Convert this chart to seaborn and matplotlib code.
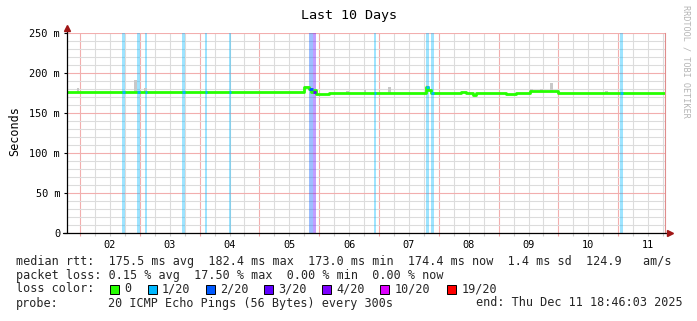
import numpy as np
import pandas as pd
import matplotlib
matplotlib.use("Agg")
import matplotlib.pyplot as plt
import seaborn as sns
from matplotlib.patches import Rectangle
from matplotlib.ticker import FixedLocator, FixedFormatter, NullFormatter

# ---------------- data ----------------
start_time = "2025-12-01 18:46:03"
n_hours = 240
# median rtt (ms) as a step function: segment start hour -> value
median_seg_start = [0, 95, 97, 98, 99, 100, 105, 144, 145, 146, 158, 160, 163, 164,
                    176, 180, 186, 189, 192, 197, 236]
median_seg_value = [176.4, 182.4, 179.6, 176.5, 178.7, 173.5, 174.8, 183.0, 178.7, 174.8,
                    176.6, 174.8, 173.0, 174.8, 173.3, 174.8, 178.0, 177.3, 177.8, 174.6, 174.4]
# periods with packet loss: start hour, duration (h), loss level (index into legend colours)
loss_start = [22.0, 28.0, 31.2, 46.0, 55.2, 65.2, 97.2, 98.8, 123.2, 144.0, 146.0, 222.0]
loss_duration = [1.3, 1.3, 0.8, 1.3, 0.8, 0.8, 1.6, 1.0, 0.8, 1.3, 1.3, 1.3]
loss_level = [1, 1, 1, 1, 1, 1, 2, 3, 1, 1, 1, 1]
# smoke (rtt spread) spikes
smoke_hours = [4, 27, 31, 95, 96, 99, 112, 119, 129, 144, 186, 190, 194, 216]
smoke_top = [181, 191, 181, 184, 184, 180, 178, 178.5, 183, 185.5, 180, 180, 188, 177.5]

loss_legend_labels = ["0", "1/20", "2/20", "3/20", "4/20", "10/20", "19/20"]
loss_legend_colors = ["#26ff00", "#00b8ff", "#0059ff", "#5e00ff", "#7e00ff", "#dd00ff", "#ff0000"]
y_ticks = [0, 50, 100, 150, 200, 250]
y_tick_labels = ["0", "50 m", "100 m", "150 m", "200 m", "250 m"]

title = "Last 10 Days"
y_label = "Seconds"
line_median = "median rtt:  175.5 ms avg  182.4 ms max  173.0 ms min  174.4 ms now  1.4 ms sd  124.9   am/s"
line_loss = "packet loss: 0.15 % avg  17.50 % max  0.00 % min  0.00 % now"
probe_label = "probe:"
probe_text = "20 ICMP Echo Pings (56 Bytes) every 300s"
end_text = "end: Thu Dec 11 18:46:03 2025"
watermark = "RRDTOOL / TOBI OETIKER"

# ---------------- style ----------------
sns.set_theme(style="white")
plt.rcParams['font.family'] = ['DejaVu Sans Mono', 'DejaVu Sans']

W, H = 697, 321
fig = plt.figure(figsize=(W / 100, H / 100), dpi=100)
fig.patch.set_facecolor("white")

def fx(px):
    return px / W

def fy(py):
    return 1 - py / H

ax = fig.add_axes([fx(67), fy(233), 598 / W, 200 / H])
ax.set_facecolor("white")

# ---------------- series ----------------
lengths = np.diff(median_seg_start + [n_hours])
median = np.repeat(median_seg_value, lengths)
hours = np.arange(n_hours + 1)
median_ext = np.append(median, median[-1])

# loss background bars
for s, d, lv in zip(loss_start, loss_duration, loss_level):
    ax.bar(s, 250, width=d, align="edge", color=loss_legend_colors[lv], alpha=0.38,
           linewidth=0, zorder=1)

# smoke
for h, top in zip(smoke_hours, smoke_top):
    ax.bar(h, top - (median[h] - 0.8), bottom=median[h] - 0.8, width=1, align="edge",
           color="#c8c8c8", linewidth=0, zorder=2)

# median line (green)
sns.lineplot(x=hours, y=median_ext, drawstyle="steps-post", color=loss_legend_colors[0],
             linewidth=2.0, ax=ax, legend=False, zorder=3)
# loss-coloured pieces of the median line
for s, d, lv in zip(loss_start, loss_duration, loss_level):
    h = int(s)
    ax.plot([s, s + d], [median[h], median[h]], color=loss_legend_colors[lv],
            linewidth=2.0, zorder=4, solid_capstyle="butt")

# ---------------- axes ----------------
t0 = pd.Timestamp(start_time)
t1 = t0 + pd.Timedelta(hours=n_hours)
to_h = lambda ts: (ts - t0) / pd.Timedelta(hours=1)
midnights = pd.date_range(t0.ceil("D"), t1, freq="D")
six = [t for t in pd.date_range(t0.ceil("6h"), t1, freq="6h") if t.hour != 0]

ax.set_xlim(0, n_hours)
ax.set_ylim(0, 250)
ax.xaxis.set_major_locator(FixedLocator([to_h(t) for t in midnights]))
ax.xaxis.set_major_formatter(NullFormatter())
ax.xaxis.set_minor_locator(FixedLocator([to_h(t) for t in six]))
ax.xaxis.set_minor_formatter(FixedFormatter([t.strftime("%d") if t.hour == 12 else "" for t in six]))
ax.yaxis.set_major_locator(FixedLocator(y_ticks))
ax.yaxis.set_major_formatter(FixedFormatter(y_tick_labels))
ax.yaxis.set_minor_locator(FixedLocator(list(range(10, 250, 10))))

ax.grid(which="major", color="#f2aeae", linewidth=0.8)
ax.grid(which="minor", color="#dcdcdc", linewidth=0.8)
ax.set_axisbelow(True)

ax.tick_params(axis="x", which="major", length=2, color="#f0a0a0", width=0.8, bottom=True)
ax.tick_params(axis="x", which="minor", length=2, color="#cccccc", width=0.8, bottom=True,
               labelsize=7.4, pad=3, labelcolor="#000000")
ax.tick_params(axis="y", which="major", length=2, color="#000000", width=0.8, left=True,
               labelsize=7.4, pad=3, labelcolor="#000000")
ax.tick_params(axis="y", which="minor", length=0)

ax.spines["top"].set_visible(False)
ax.spines["right"].set_color("#e08c8c")
ax.spines["right"].set_linewidth(0.8)
ax.spines["left"].set_visible(False)
ax.spines["bottom"].set_visible(False)

# axis lines with arrows
ax.plot([0, 0], [0, 1.015], transform=ax.transAxes, color="#000000", lw=0.9, clip_on=False, zorder=6)
ax.plot([-0.007, 1.005], [0, 0], transform=ax.transAxes, color="#000000", lw=0.9, clip_on=False, zorder=6)
ax.plot([0], [1.025], transform=ax.transAxes, marker="^", markersize=4.5, color="#a01515",
        clip_on=False, zorder=7)
ax.plot([1.008], [0], transform=ax.transAxes, marker=">", markersize=4.5, color="#a01515",
        clip_on=False, zorder=7)

# ---------------- texts ----------------
fig.text(fx(349), fy(16), title, ha="center", va="center", fontsize=9.6, color="#000000")
fig.text(fx(15), fy(131), y_label, ha="center", va="center", rotation=90, fontsize=8.5, color="#000000")
fig.text(fx(686), fy(61), watermark, ha="center", va="center", rotation=270, fontsize=6.1, color="#b4b4b4")

fs = 8.5
fig.text(fx(16), fy(261), line_median, ha="left", va="center", fontsize=fs)
fig.text(fx(16), fy(275), line_loss, ha="left", va="center", fontsize=fs)
fig.text(fx(16), fy(289), "loss color:", ha="left", va="center", fontsize=fs)
box_x = [109.5, 147.5, 205.5, 263.6, 321.7, 379.8, 446.8]
for bx, lab, col in zip(box_x, loss_legend_labels, loss_legend_colors):
    fig.patches.append(Rectangle((fx(bx), fy(289 + 4.5)), 9 / W, 9 / H, transform=fig.transFigure,
                                 facecolor=col, edgecolor="#000000", linewidth=0.7))
    fig.text(fx(bx + 14.5), fy(289), lab, ha="left", va="center", fontsize=fs)
fig.text(fx(16), fy(303), probe_label, ha="left", va="center", fontsize=fs)
fig.text(fx(108), fy(303), probe_text, ha="left", va="center", fontsize=fs)
fig.text(fx(683), fy(303), end_text, ha="right", va="center", fontsize=fs)

fig.savefig("out.png", dpi=100, facecolor="white")
